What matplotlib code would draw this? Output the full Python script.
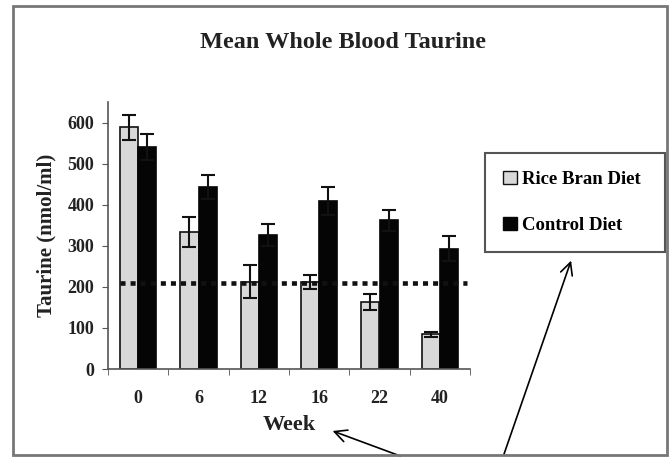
import matplotlib.pyplot as plt
from matplotlib.patches import Patch, Rectangle
import numpy as np

weeks = ['0', '6', '12', '16', '22', '40']
rice_bran = [588, 333, 212, 212, 163, 84]
rice_bran_err = [31, 37, 40, 17, 20, 6]
control = [541, 443, 327, 408, 362, 293]
control_err = [32, 30, 27, 34, 26, 31]
threshold = 210

plt.rcParams['font.family'] = ['Liberation Serif', 'DejaVu Serif']
plt.rcParams['font.weight'] = 'bold'

W, H = 672, 457
fig = plt.figure(figsize=(W / 100, H / 100), dpi=100)
ax = fig.add_axes([108 / W, 1 - 369 / H, 362 / W, 267 / H])

x = np.arange(len(weeks))
bw = 0.3
ax.bar(x - bw / 2, rice_bran, bw, color='#d8d8d8', edgecolor='#111111', linewidth=1.2)
ax.bar(x + bw / 2, control, bw, color='#050505', edgecolor='#050505', linewidth=1.2)
ax.errorbar(x - bw / 2, rice_bran, yerr=rice_bran_err, fmt='none', ecolor='#111111',
            elinewidth=1.5, capsize=5, capthick=1.5)
ax.errorbar(x + bw / 2, control, yerr=control_err, fmt='none', ecolor='#111111',
            elinewidth=1.5, capsize=5, capthick=1.5)
ax.hlines(threshold, -0.3, 5.45, colors='#111111', linestyles=(0, (1.1, 1.1)), linewidth=3.3)

ax.set_xlim(-0.5, 5.5)
ax.set_ylim(0, 650)
ax.set_yticks(range(0, 700, 100))
ax.set_xticks(x)
ax.set_xticklabels(weeks)
ax.set_xticks(np.arange(-0.5, 6, 1), minor=True)
ax.tick_params(axis='x', which='major', length=0, pad=15, labelsize=13, colors='#222222')
ax.tick_params(axis='x', which='minor', length=4, direction='out', color='#555555')
ax.tick_params(axis='y', length=4, direction='out', color='#555555', labelsize=13,
               labelcolor='#222222', pad=6)
for s in ['top', 'right']:
    ax.spines[s].set_visible(False)
for s in ['left', 'bottom']:
    ax.spines[s].set_color('#555555')
    ax.spines[s].set_linewidth(1.2)

ax.set_xlabel('Week', fontsize=16, fontweight='bold', color='#222222', labelpad=6)
ax.set_ylabel('Taurine (nmol/ml)', fontsize=15, fontweight='bold', color='#222222', labelpad=8)
fig.text(343 / W, 1 - 42 / H, 'Mean Whole Blood Taurine', ha='center', va='center',
         fontsize=17.5, fontweight='bold', color='#222222')

handles = [Patch(facecolor='#d8d8d8', edgecolor='#111111', label='Rice Bran Diet'),
           Patch(facecolor='#050505', edgecolor='#050505', label='Control Diet')]
leg = fig.legend(handles=handles, loc='upper left',
                 bbox_to_anchor=(485 / W, 1 - 253 / H, 180 / W, 100 / H),
                 bbox_transform=fig.transFigure, mode='expand', fontsize=13.5,
                 handlelength=0.75, handleheight=0.7, handletextpad=0.25,
                 labelspacing=1.55, borderpad=0.95, fancybox=False, framealpha=1,
                 borderaxespad=0)
leg.get_frame().set_edgecolor('#555555')
leg.get_frame().set_linewidth(1.5)

# outer chart border
fig.patches.append(Rectangle((13 / W, 1 - 455 / H), 654 / W, 449 / H,
                             transform=fig.transFigure, fill=False,
                             edgecolor='#777777', linewidth=2))

# hand-drawn arrows
ax.annotate('', xy=(330 / W, 1 - 430 / H), xytext=(403 / W, 0),
            xycoords='figure fraction', textcoords='figure fraction',
            arrowprops=dict(arrowstyle='->', color='black', lw=1.2, mutation_scale=22))
ax.annotate('', xy=(572 / W, 1 - 258 / H), xytext=(503 / W, 0),
            xycoords='figure fraction', textcoords='figure fraction',
            arrowprops=dict(arrowstyle='->', color='black', lw=1.2, mutation_scale=22))

fig.savefig('out.png', dpi=100)
